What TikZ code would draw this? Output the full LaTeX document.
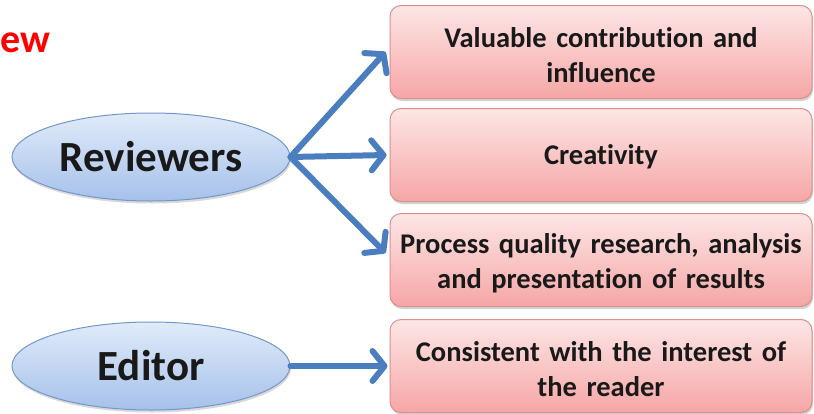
\documentclass[tikz,border=0pt]{standalone}
\usepackage{fontspec}
\setmainfont[Ligatures=NoCommon]{Carlito}
\usetikzlibrary{shapes.geometric,arrows.meta,shadows}
\definecolor{boxtop}{HTML}{FDE6E6}
\definecolor{boxbot}{HTML}{F6A6A6}
\definecolor{boxline}{HTML}{D9908E}
\definecolor{elltop}{HTML}{E0EBF9}
\definecolor{ellbot}{HTML}{A6C1EA}
\definecolor{ellline}{HTML}{7397CB}
\definecolor{arrowblue}{HTML}{4A7EBF}
\definecolor{titlered}{HTML}{FF0000}
\tikzset{
  crit/.style={rectangle, rounded corners=11pt, draw=boxline, line width=1pt,
    top color=boxtop, bottom color=boxbot,
    drop shadow={shadow xshift=1pt, shadow yshift=-2.5pt, opacity=0.35, fill=gray},
    minimum width=422pt, minimum height=93pt},
  critlabel/.style={inner sep=0pt, text width=416pt, align=center,
    font=\bfseries\fontsize{28.5}{35}\selectfont, text=black!90},
  actor/.style={ellipse, draw=ellline, line width=1pt,
    top color=elltop, bottom color=ellbot,
    drop shadow={shadow xshift=1pt, shadow yshift=-2.5pt, opacity=0.3, fill=gray},
    minimum width=278pt, minimum height=88pt, inner sep=0pt,
    font=\bfseries\fontsize{43}{48}\selectfont, text=black!90},
  link/.style={draw=arrowblue, line width=6pt, line cap=round, line join=round,
    -{Straight Barb[length=12pt,width=30pt,line width=6pt,round]}},
}
\begin{document}
\begin{tikzpicture}[x=1pt,y=-1pt]
  \useasboundingbox (0,0) rectangle (814,413);

  % heading fragment at the top left
  \node[anchor=base west, inner sep=0pt, text=titlered,
        font=\bfseries\fontsize{40}{44}\selectfont] (head) at (0.5,52) {ew};

  % criteria boxes (text set slightly below the box centre)
  \node[crit] (b1) at (601,52)  {};
  \node[crit] (b2) at (601,155) {};
  \node[crit] (b3) at (601,260) {};
  \node[crit] (b4) at (601,366) {};
  \node[critlabel] (t1) at ([yshift=-3pt]b1.center) {Valuable contribution and\\influence};
  \node[critlabel] (t2) at ([yshift=-2pt]b2.center) {Creativity};
  \node[critlabel] (t3) at ([yshift=-3pt]b3.center) {Process quality research, analysis\\and presentation of results};
  \node[critlabel] (t4) at ([yshift=-3pt]b4.center) {Consistent with the interest of\\the reader};

  % who judges
  \node[actor] (rev) at (151,157) {Reviewers};
  \node[actor] (ed)  at (151,366) {Editor};

  % connectors
  \draw[link] (rev.east) -- ([xshift=-4pt]b1.west);
  \draw[link] (rev.east) -- ([xshift=-3pt]b2.west);
  \draw[link] (rev.east) -- ([xshift=-4pt,yshift=7pt]b3.west);
  \draw[link] (ed.east)  -- ([xshift=-2pt]b4.west);
\end{tikzpicture}
\end{document}
